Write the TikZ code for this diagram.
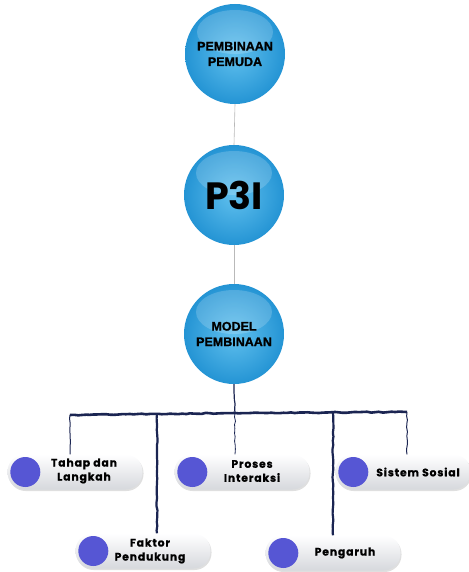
\documentclass[tikz,border=0pt]{standalone}
\usepackage{fontspec}
\setmainfont{Poppins}
\newfontfamily\ballfont{Liberation Sans}[BoldFeatures={FakeBold=1.2}]
\newfontfamily\pillfont{Poppins}[LetterSpace=8, BoldFeatures={FakeBold=0.8}]
\usetikzlibrary{shadows,decorations.pathmorphing}
\definecolor{ballin}{RGB}{96,192,238}
\definecolor{ballout}{RGB}{36,148,212}
\definecolor{dotblue}{RGB}{86,86,212}
\definecolor{inkline}{RGB}{27,37,82}
\definecolor{pillgray}{RGB}{214,216,220}
\tikzset{
  ball/.style={circle, minimum size=100pt, inner sep=0pt, inner color=ballin, outer color=ballout, align=center,
    font=\ballfont\bfseries\fontsize{12.5}{15.5}\selectfont,
    path picture={\fill[white, fill opacity=0.18] ([yshift=22pt]path picture bounding box.center) ellipse (38pt and 22pt);}},
  pill/.style={rectangle, rounded corners=17pt, minimum width=135pt, minimum height=35pt, top color=white, bottom color=pillgray, drop shadow={opacity=0.25, shadow xshift=1pt, shadow yshift=-1.5pt}},
  pilltext/.style={align=center, font=\pillfont\bfseries\fontsize{10.8}{14}\selectfont},
  rough/.style={decorate, decoration={random steps, segment length=4pt, amplitude=0.5pt}, inkline}
}
\begin{document}
\begin{tikzpicture}[x=1pt, y=-1pt]
\useasboundingbox (0,0) rectangle (468,572);
\node[ball] (pemuda) at (235,54) {PEMBINAAN\\PEMUDA};
\node[ball, font=\bfseries\fontsize{38}{38}\selectfont] (ptiga) at (234,195) {P3I};
\node[ball] (model) at (234,334) {MODEL\\PEMBINAAN};
\draw[gray!55, line width=0.6pt] (pemuda.south) -- (ptiga.north);
\draw[gray!55, line width=0.6pt] (ptiga.south) -- (model.north);
\coordinate (bar) at (235,413);
\coordinate (barL) at (70,415);
\coordinate (barR) at (407,412);
\coordinate (barF) at (157,414);
\coordinate (barP) at (333,413);
\node[pill] (tahap) at (75,472) {};
\node[pill] (proses) at (242,472) {};
\node[pill] (sistem) at (403,472) {};
\node[pill] (faktor) at (143,551) {};
\node[pill] (pengaruh) at (333,553) {};
\fill[dotblue] ([xshift=18pt]tahap.west) circle (15pt);
\fill[dotblue] ([xshift=18pt]proses.west) circle (15pt);
\fill[dotblue] ([xshift=18pt]sistem.west) circle (15pt);
\fill[dotblue] ([xshift=18pt]faktor.west) circle (15pt);
\fill[dotblue] ([xshift=18pt]pengaruh.west) circle (15pt);
\node[pilltext] at (84,471) {Tahap dan\\Langkah};
\node[pilltext] at (252,471) {Proses\\Interaksi};
\node[pilltext] at (418,472) {Sistem Sosial};
\node[pilltext] at (150,551) {Faktor\\Pendukung};
\node[pilltext] at (345,553) {Pengaruh};
\draw[rough, line width=1.2pt] (model.south) -- (bar);
\draw[rough, line width=2.6pt] (barL) -- (bar) -- (barR);
\draw[rough, line width=1pt] (barL) -- (barL |- tahap.north);
\draw[rough, line width=2.2pt] (barF) -- (barF |- faktor.north);
\draw[rough, line width=0.8pt] (bar) -- (bar |- proses.north);
\draw[rough, line width=2.2pt] (barP) -- (barP |- pengaruh.north);
\draw[rough, line width=1pt] (barR) -- (barR |- sistem.north);
\end{tikzpicture}
\end{document}
